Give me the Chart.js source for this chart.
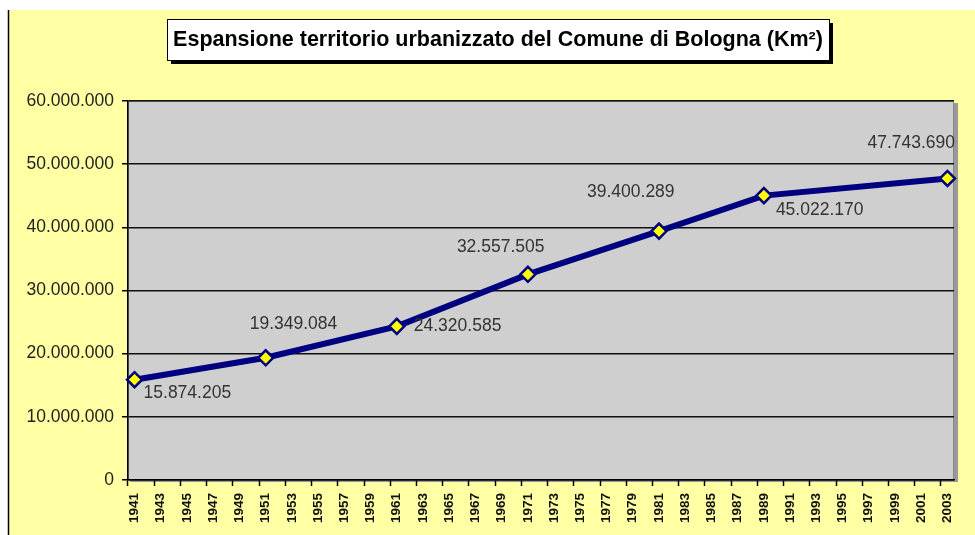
<!DOCTYPE html>
<html>
<head>
<meta charset="utf-8">
<script src="https://cdn.jsdelivr.net/npm/chart.js@4/dist/chart.umd.min.js"></script>
<style>
  html, body { margin: 0; padding: 0; background: #fff; }
  #wrap { width: 975px; height: 535px; }
</style>
</head>
<body>
<div id="wrap"><canvas id="urbanChart" width="975" height="535"></canvas></div>
<script>
// data
const pointYears = ['1941', '1951', '1961', '1971', '1981', '1989', '2003']
const urbanArea = [15874205, 19349084, 24320585, 32557505, 39400289, 45022170, 47743690]
const yTicks = [0, 10000000, 20000000, 30000000, 40000000, 50000000, 60000000]
const titleText = 'Espansione territorio urbanizzato del Comune di Bologna (Km²)'

// one category per year, labels shown every other year
const allYears = []
for (let y = 1941; y <= 2003; y++) allYears.push(String(y))

// where each value label sits relative to its point (left edge, middle)
const labelOffsets = [[9, 13], [-16, -34], [17, 0], [-71, -27], [-72, -39], [12, 15], [-80, -35]]

const FONT = "'Liberation Sans', Arial, sans-serif"
const YELLOW = '#FFFFA3'
const PLOT_GRAY = '#CFCFCF'
const NAVY = '#000080'

function fmt(v) {
    return String(v).replace(/\B(?=(\d{3})+(?!\d))/g, '.')
}

const backdrop = {
    id: 'backdrop',
    beforeDraw(chart) {
        const { ctx, width, height, chartArea: a } = chart
        ctx.save()
        ctx.fillStyle = '#fff'
        ctx.fillRect(0, 0, width, height)
        ctx.fillStyle = YELLOW
        ctx.fillRect(9, 10, width - 9, height - 10)
        ctx.strokeStyle = '#000'
        ctx.lineWidth = 1.5
        ctx.beginPath()
        ctx.moveTo(8.5, 10)
        ctx.lineTo(8.5, height)
        ctx.stroke()

        // plot area with a soft shadow on the right
        ctx.fillStyle = '#999'
        ctx.fillRect(a.left + 2, a.top + 2, a.width + 2, a.height)
        ctx.fillStyle = PLOT_GRAY
        ctx.fillRect(a.left, a.top, a.width, a.height)
        ctx.strokeStyle = '#888'
        ctx.lineWidth = 1
        ctx.strokeRect(a.left + 0.5, a.top + 0.5, a.width - 1, a.height - 1)
        ctx.restore()
    },
    afterDraw(chart) {
        // title in a box with a hard drop shadow
        const { ctx } = chart
        ctx.save()
        ctx.font = 'bold 21.5px ' + FONT
        const tw = ctx.measureText(titleText).width
        const cx = 498
        const bx = Math.round(cx - tw / 2 - 6), by = 19, bw = Math.round(tw + 12), bh = 41
        ctx.fillStyle = '#000'
        ctx.fillRect(bx + 4, by + 4, bw, bh)
        ctx.fillStyle = '#fff'
        ctx.fillRect(bx, by, bw, bh)
        ctx.strokeStyle = '#000'
        ctx.lineWidth = 1
        ctx.strokeRect(bx + 0.5, by + 0.5, bw, bh)
        ctx.fillStyle = '#000'
        ctx.textAlign = 'center'
        ctx.textBaseline = 'middle'
        ctx.fillText(titleText, cx, by + bh / 2 + 1)
        ctx.restore()
    }
}

const valueLabels = {
    id: 'valueLabels',
    afterDatasetsDraw(chart) {
        const { ctx } = chart
        const meta = chart.getDatasetMeta(0)
        ctx.save()
        ctx.font = '17.5px ' + FONT
        ctx.fillStyle = '#333'
        ctx.textAlign = 'left'
        ctx.textBaseline = 'middle'
        meta.data.forEach((pt, i) => {
            const off = labelOffsets[i]
            ctx.fillText(fmt(urbanArea[i]), pt.x + off[0], pt.y + off[1])
        })
        ctx.restore()
    }
}

new Chart(document.getElementById('urbanChart'), {
    type: 'line',
    data: {
        labels: allYears,
        datasets: [{
            data: pointYears.map((yr, i) => ({ x: yr, y: urbanArea[i] })),
            borderColor: NAVY,
            borderWidth: 6,
            pointStyle: 'rectRot',
            pointRadius: 7.5,
            pointBackgroundColor: '#FFFF00',
            pointBorderColor: NAVY,
            pointBorderWidth: 2.5,
            tension: 0
        }]
    },
    options: {
        responsive: false,
        animation: false,
        layout: { padding: { left: 0, right: 21, top: 101, bottom: 0 } },
        plugins: {
            legend: { display: false },
            tooltip: { enabled: false },
            title: { display: false }
        },
        scales: {
            x: {
                type: 'category',
                offset: true,
                grid: {
                    offset: true,
                    drawOnChartArea: false,
                    drawTicks: true,
                    tickLength: 6,
                    tickWidth: 1.5,
                    tickColor: ctx => ctx.index % 2 === 0 ? '#000' : 'rgba(0,0,0,0)'
                },
                border: { display: true, color: '#000', width: 1.5 },
                ticks: {
                    autoSkip: false,
                    minRotation: 90,
                    maxRotation: 90,
                    padding: 7,
                    color: '#111',
                    font: { family: FONT, size: 13.5, weight: 'bold' },
                    callback: function (val, i) {
                        return i % 2 === 0 ? this.getLabelForValue(val) : ''
                    }
                },
                afterFit: scale => { scale.height = 55 }
            },
            y: {
                min: 0,
                max: 60000000,
                afterBuildTicks: scale => { scale.ticks = yTicks.map(v => ({ value: v })) },
                grid: {
                    color: '#111',
                    lineWidth: 1.5,
                    tickLength: 6,
                    tickColor: '#000'
                },
                border: { display: true, color: '#000', width: 1.5 },
                ticks: {
                    padding: 8,
                    color: '#222',
                    font: { family: FONT, size: 17.5 },
                    callback: v => fmt(v)
                },
                afterFit: scale => { scale.width = 128 }
            }
        }
    },
    plugins: [backdrop, valueLabels]
})
</script>
</body>
</html>
